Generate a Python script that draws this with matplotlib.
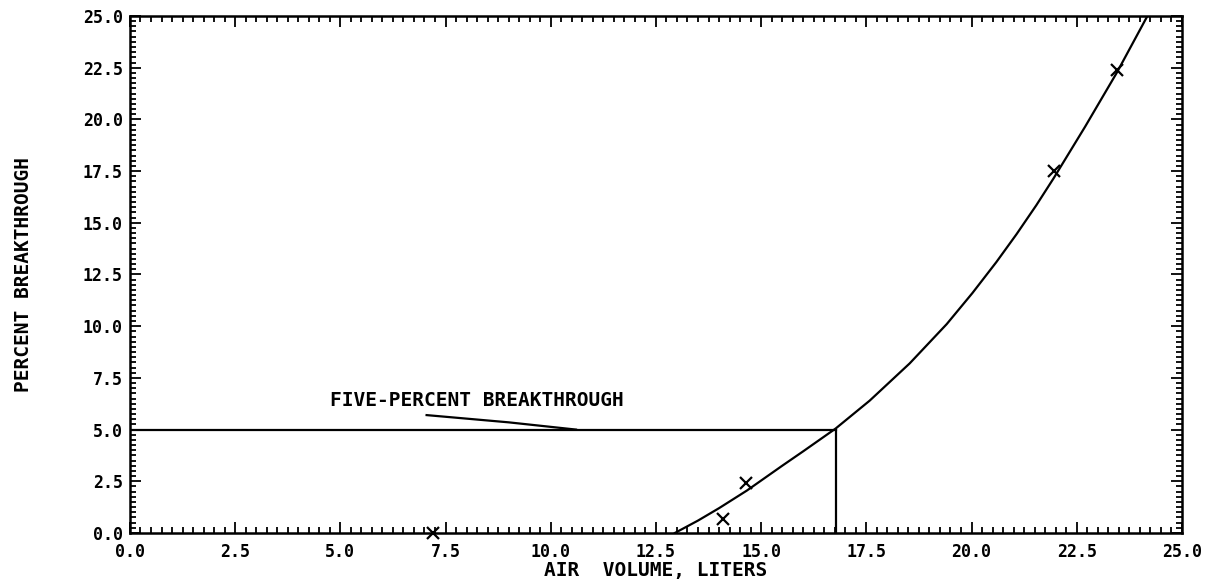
#! /usr/bin/env python3

import numpy as np
from matplotlib import pyplot as plt
from matplotlib.ticker import MultipleLocator, FormatStrFormatter

# measured points (x markers)
obs_volume  = [7.2, 14.1, 14.65, 21.95, 23.45]
obs_percent = [0.0, 0.7, 2.4, 17.5, 22.4]

# fitted breakthrough curve
fit_volume  = [12.95, 13.5, 14.0, 14.66, 15.5, 16.0, 16.77, 17.58, 18.53,
               19.41, 20.02, 20.59, 21.07, 21.54, 21.95, 22.7, 23.45, 24.18]
fit_percent = [0.0, 0.6, 1.2, 2.05, 3.25, 3.95, 5.05, 6.4, 8.2,
               10.1, 11.6, 13.1, 14.45, 15.85, 17.15, 19.65, 22.25, 25.0]

breakthrough_volume  = 16.77
breakthrough_percent = 5.0

FONT = "DejaVu Sans Mono"

def main():

    plt.rcParams["font.family"] = FONT
    plt.rcParams["font.weight"] = "bold"

    fig = plt.figure(figsize = (12.11, 5.83), dpi = 100)
    ax = fig.add_axes([0.1073, 0.0858, 0.8687, 0.8868])

    ax.plot(fit_volume, fit_percent, color = "black", lw = 1.6)
    ax.plot(obs_volume, obs_percent, "x", color = "black", ms = 8,
            mew = 1.6, clip_on = False)

    # five percent construction lines
    ax.plot([0, breakthrough_volume], [breakthrough_percent] * 2,
            color = "black", lw = 1.6)
    ax.plot([breakthrough_volume] * 2, [0, breakthrough_percent],
            color = "black", lw = 1.6)
    ax.plot([7.05, 9.0, 10.6], [5.7, 5.35, 5.0], color = "black", lw = 1.6)
    ax.text(4.75, 6.4, "FIVE-PERCENT BREAKTHROUGH", fontsize = 14,
            fontweight = "bold", va = "center", ha = "left")

    ax.set_xlim(0, 25)
    ax.set_ylim(0, 25)
    ax.xaxis.set_major_locator(MultipleLocator(2.5))
    ax.yaxis.set_major_locator(MultipleLocator(2.5))
    ax.xaxis.set_minor_locator(MultipleLocator(0.25))
    ax.yaxis.set_minor_locator(MultipleLocator(0.25))
    ax.xaxis.set_major_formatter(FormatStrFormatter("%.1f"))
    ax.yaxis.set_major_formatter(FormatStrFormatter("%.1f"))
    ax.tick_params(which = "both", direction = "in", top = True, right = True,
                   labelsize = 12, width = 1.3)
    ax.tick_params(which = "major", length = 8)
    ax.tick_params(which = "minor", length = 4)
    ax.tick_params(axis = "x", which = "major", pad = 7)
    ax.tick_params(axis = "y", which = "major", pad = 5)
    for lab in ax.get_xticklabels() + ax.get_yticklabels():
        lab.set_fontweight("bold")
    for sp in ax.spines.values():
        sp.set_linewidth(1.8)

    ax.set_xlabel("AIR  VOLUME, LITERS", fontsize = 14, fontweight = "bold",
                  labelpad = 0)
    ax.set_ylabel("PERCENT BREAKTHROUGH", fontsize = 14, fontweight = "bold",
                  labelpad = 36)

    fig.savefig("out.png", dpi = 100)

if __name__ == "__main__":
    main()
